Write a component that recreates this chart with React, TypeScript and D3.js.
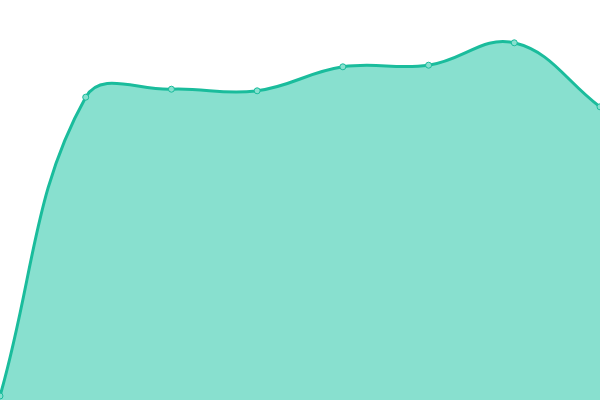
import React, { useEffect, useRef } from "react";
import * as d3 from "d3";

const WIDTH = 600;
const HEIGHT = 400;

// one value per point (0..100 scale)
const labels = ["1", "2", "3", "4", "5", "6", "7", "8"];
const values = [1, 75.7, 77.7, 77.3, 83.3, 83.7, 89.3, 73.3];

const LINE_COLOR = "#1abc9c";
const FILL_COLOR = "#88e0cf";
const TENSION = 0.4;

type Pt = { x: number; y: number };

// spline control points, the way a tension-based line chart builds them
function controlPoints(pts: Pt[]) {
  return pts.map((cur, i) => {
    const prev = pts[i - 1] || cur;
    const next = pts[i + 1] || cur;
    const d01 = Math.hypot(cur.x - prev.x, cur.y - prev.y);
    const d12 = Math.hypot(next.x - cur.x, next.y - cur.y);
    let s01 = d01 / (d01 + d12);
    let s12 = d12 / (d01 + d12);
    if (isNaN(s01)) s01 = 0;
    if (isNaN(s12)) s12 = 0;
    const fa = TENSION * s01;
    const fb = TENSION * s12;
    const clampX = (v: number) => Math.max(0, Math.min(WIDTH, v));
    const clampY = (v: number) => Math.max(0, Math.min(HEIGHT, v));
    return {
      prev: { x: clampX(cur.x - fa * (next.x - prev.x)), y: clampY(cur.y - fa * (next.y - prev.y)) },
      next: { x: clampX(cur.x + fb * (next.x - prev.x)), y: clampY(cur.y + fb * (next.y - prev.y)) },
    };
  });
}

function splinePath(pts: Pt[], close: boolean) {
  const cps = controlPoints(pts);
  const p = d3.path();
  p.moveTo(pts[0].x, pts[0].y);
  for (let i = 1; i < pts.length; i++) {
    p.bezierCurveTo(cps[i - 1].next.x, cps[i - 1].next.y, cps[i].prev.x, cps[i].prev.y, pts[i].x, pts[i].y);
  }
  if (close) {
    p.lineTo(pts[pts.length - 1].x, HEIGHT);
    p.lineTo(pts[0].x, HEIGHT);
    p.closePath();
  }
  return p.toString();
}

const App: React.FC = () => {
  const ref = useRef<SVGSVGElement>(null);

  useEffect(() => {
    if (!ref.current) return;
    const svg = d3.select(ref.current);
    svg.selectAll("*").remove();

    const x = d3.scalePoint<string>().domain(labels).range([0, WIDTH]);
    const y = d3.scaleLinear().domain([0, 100]).range([HEIGHT, 0]);

    const pts: Pt[] = values.map((v, i) => ({ x: x(labels[i]) as number, y: y(v) }));

    // area
    svg.append("path").attr("d", splinePath(pts, true)).attr("fill", FILL_COLOR);

    // line
    svg
      .append("path")
      .attr("d", splinePath(pts, false))
      .attr("fill", "none")
      .attr("stroke", LINE_COLOR)
      .attr("stroke-width", 3);

    // points
    svg
      .selectAll("circle")
      .data(pts)
      .enter()
      .append("circle")
      .attr("cx", (d) => d.x)
      .attr("cy", (d) => d.y)
      .attr("r", 3)
      .attr("fill", FILL_COLOR)
      .attr("stroke", LINE_COLOR)
      .attr("stroke-width", 1);
  }, []);

  return (
    <svg
      ref={ref}
      width={WIDTH}
      height={HEIGHT}
      style={{ position: "absolute", left: 0, top: 0, display: "block", background: "#fff" }}
    />
  );
};

export default App;
